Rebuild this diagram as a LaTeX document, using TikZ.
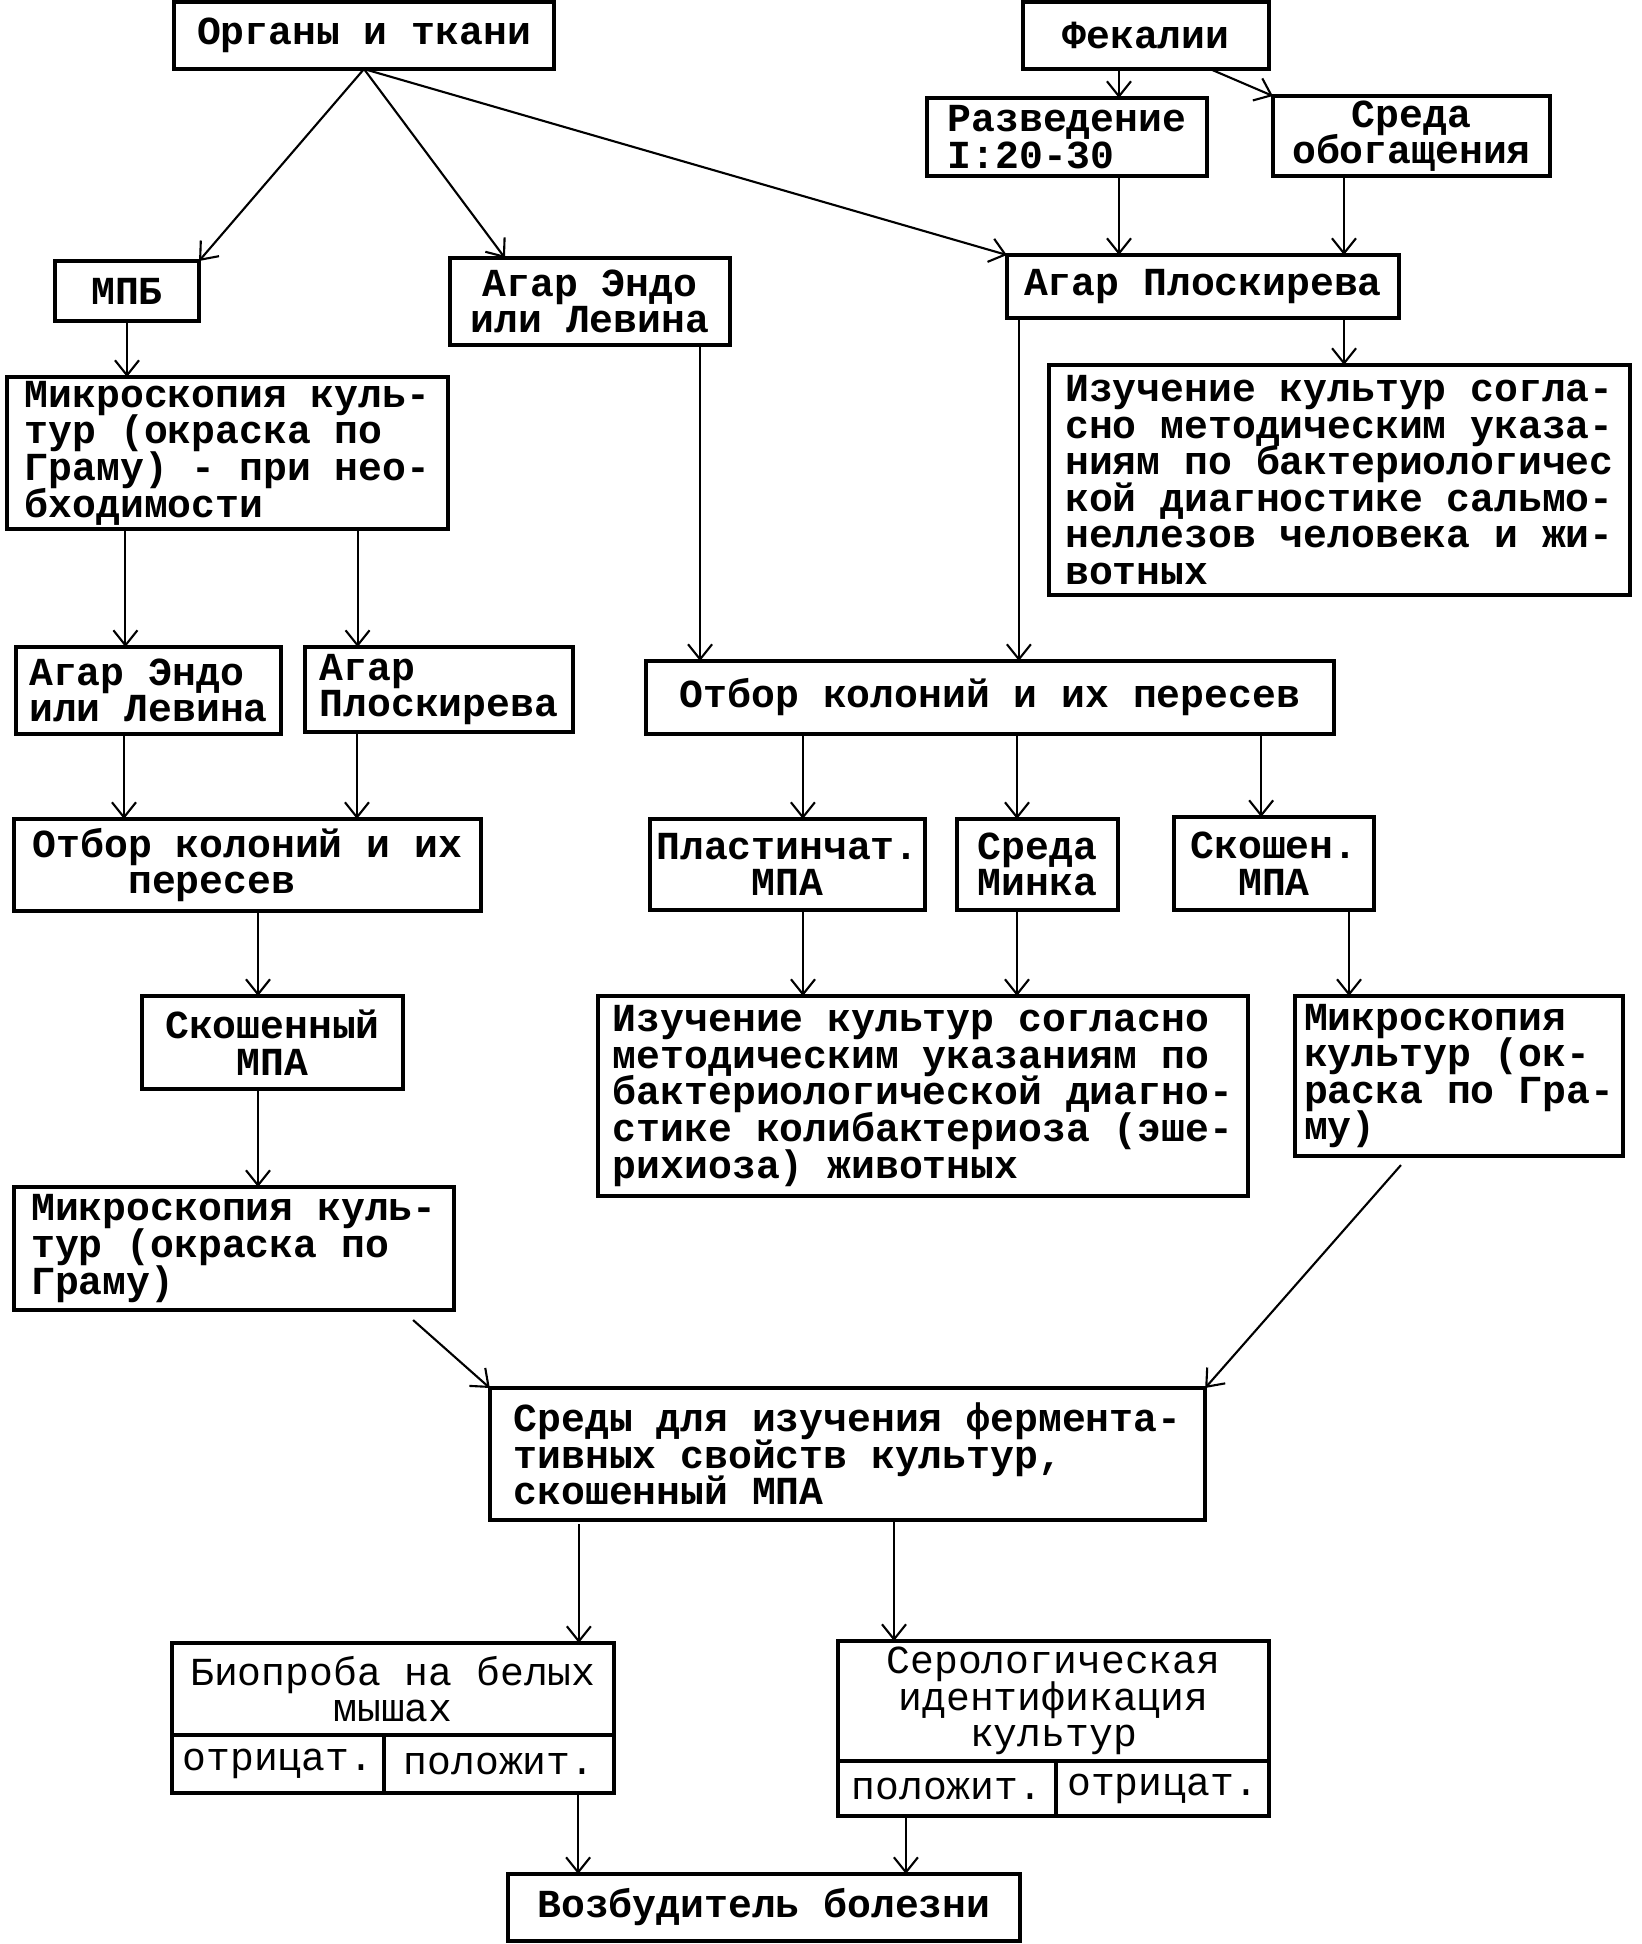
\documentclass[tikz,border=0pt]{standalone}
\usepackage{fontspec}
\setmonofont{Liberation Mono}
\usetikzlibrary{arrows.meta,positioning}

\newcommand\blkfont{\ttfamily\bfseries\fontsize{11.3}{10.4}\selectfont\lineskiplimit-10pt\relax}
\newcommand\litefont{\ttfamily\mdseries\fontsize{11.3}{10.4}\selectfont\lineskiplimit-10pt\relax}

\tikzset{
  blk/.style 2 args={draw, line width=1pt, inner sep=1pt, outer sep=0pt,
    minimum width=#1cm, minimum height=#2cm, font=\blkfont},
  lite/.style={font=\litefont},
  arr/.style={line width=0.6pt, -{Straight Barb[length=1.5mm,width=2.4mm]}},
}

\begin{document}
\begin{tikzpicture}[x=0.01cm, y=-0.01cm]
  \useasboundingbox (0,0) rectangle (1641,1944);

  % 1. Sources and first media
  \node[blk={3.80}{0.67}] (org) at (364,35.5) {Органы и ткани};
  \node[blk={2.46}{0.67}] (fek) at (1146,35.5) {Фекалии};
  \node[blk={2.80}{0.78}, align=left] (razv) at (1067,137) {Разведение\\I:20-30};
  \node[blk={2.77}{0.80}, align=center] (sreda) at (1411.5,136) {Среда\\обогащения};
  \node[blk={1.44}{0.60}] (mpb) at (127,291) {МПБ};
  \node[blk={2.80}{0.87}, align=center] (endo1) at (590,301.5) {Агар Эндо\\или Левина};
  \node[blk={3.92}{0.63}] (plosk) at (1203,286.5) {Агар Плоскирева};

  % 2. Second row
  \node[blk={4.41}{1.52}, align=left] (mic1) at (227.5,453)
    {Микроскопия куль-\\тур (окраска по\\Граму) - при нео-\\бходимости};
  \node[blk={5.81}{2.30}, align=left] (izu1) at (1339.5,480)
    {Изучение культур согла-\\сно методическим указа-\\ниям по бактериологичес\\кой диагностике сальмо-\\неллезов человека и жи-\\вотных};
  \node[blk={2.65}{0.87}, align=left] (endo2) at (148.5,690.5) {Агар Эндо\\или Левина};
  \node[blk={2.68}{0.85}, align=left] (plosk2) at (439,689.5) {Агар\\Плоскирева};
  \node[blk={6.88}{0.73}] (otb1) at (990,697.5) {Отбор колоний и их пересев};

  % 3. Colonies and subcultures
  \node[blk={4.67}{0.92}, align=left] (otb2) at (247.5,865) {Отбор колоний и их\\\hspace*{2.4em}пересев};
  \node[blk={2.75}{0.91}, align=center] (plast) at (787.5,864.5) {Пластинчат.\\МПА};
  \node[blk={1.61}{0.91}, align=center] (minka) at (1037.5,864.5) {Среда\\Минка};
  \node[blk={2.00}{0.93}, align=center] (skos1) at (1274,863.5) {Скошен.\\МПА};
  \node[blk={2.61}{0.93}, align=center] (skos2) at (272.5,1042.5) {Скошенный\\МПА};
  \node[blk={6.50}{2.00}, align=left] (izu2) at (923,1096)
    {Изучение культур согласно\\методическим указаниям по\\бактериологической диагно-\\стике колибактериоза (эше-\\рихиоза) животных};
  \node[blk={3.28}{1.60}, align=left] (mic3) at (1459,1076) {Микроскопия\\культур (ок-\\раска по Гра-\\му)};
  \node[blk={4.40}{1.23}, align=left] (mic2) at (234,1248.5) {Микроскопия куль-\\тур (окраска по\\Граму)};

  % 4. Identification
  \node[blk={7.15}{1.32}, align=left] (sredy) at (847.5,1454)
    {Среды для изучения фермента-\\тивных свойств культур,\\скошенный МПА};
  \node[blk={4.42}{0.92}, lite, align=center] (bio) at (393,1689) {Биопроба на белых\\мышах};
  \node[blk={2.12}{0.58}, lite, anchor=north west] (bioneg) at (bio.south west) {отрицат.};
  \node[blk={2.30}{0.58}, lite, anchor=north west] (biopos) at (bioneg.north east) {положит.};
  \node[blk={4.31}{1.20}, lite, align=center] (sero) at (1053.5,1701) {Серологическая\\идентификация\\культур};
  \node[blk={2.18}{0.55}, lite, anchor=north west] (seropos) at (sero.south west) {положит.};
  \node[blk={2.13}{0.55}, lite, anchor=north west] (seroneg) at (seropos.north east) {отрицат.};
  \node[blk={5.12}{0.67}] (vozb) at (764,1907.5) {Возбудитель болезни};

  % 5. Arrows
  \draw[arr] (org.south) -- (mpb.north east);
  \draw[arr] (org.south) -- ([xshift=-0.85cm]endo1.north);
  \draw[arr] (org.south) -- (plosk.north west);
  \draw[arr] ([xshift=-0.27cm]fek.south) -- ([xshift=-0.27cm]fek.south |- razv.north);
  \draw[arr] ([xshift=-0.59cm]fek.south east) -- (sreda.north west);
  \draw[arr] ([xshift=0.52cm]razv.south) -- ([xshift=0.52cm]razv.south |- plosk.north);
  \draw[arr] ([xshift=-0.675cm]sreda.south) -- ([xshift=-0.675cm]sreda.south |- plosk.north);
  \draw[arr] ([xshift=1.41cm]plosk.south) -- ([xshift=1.41cm]plosk.south |- izu1.north);
  \draw[arr] ([xshift=-1.84cm]plosk.south) -- ([xshift=-1.84cm]plosk.south |- otb1.north);
  \draw[arr] ([xshift=1.10cm]endo1.south) -- ([xshift=1.10cm]endo1.south |- otb1.north);
  \draw[arr] (mpb.south) -- (mpb.south |- mic1.north);
  \draw[arr] ([xshift=-1.02cm]mic1.south) -- ([xshift=-1.02cm]mic1.south |- endo2.north);
  \draw[arr] ([xshift=1.30cm]mic1.south) -- ([xshift=1.30cm]mic1.south |- plosk2.north);
  \draw[arr] ([xshift=-0.245cm]endo2.south) -- ([xshift=-0.245cm]endo2.south |- otb2.north);
  \draw[arr] ([xshift=-0.82cm]plosk2.south) -- ([xshift=-0.82cm]plosk2.south |- otb2.north);
  \draw[arr] ([xshift=0.105cm]otb2.south) -- ([xshift=0.105cm]otb2.south |- skos2.north);
  \draw[arr] ([xshift=-0.145cm]skos2.south) -- ([xshift=-0.145cm]skos2.south |- mic2.north);
  \draw[arr] ([xshift=-1.87cm]otb1.south) -- ([xshift=-1.87cm]otb1.south |- plast.north);
  \draw[arr] ([xshift=0.27cm]otb1.south) -- ([xshift=0.27cm]otb1.south |- minka.north);
  \draw[arr] ([xshift=2.71cm]otb1.south) -- ([xshift=2.71cm]otb1.south |- skos1.north);
  \draw[arr] ([xshift=0.155cm]plast.south) -- ([xshift=0.155cm]plast.south |- izu2.north);
  \draw[arr] ([xshift=-0.205cm]minka.south) -- ([xshift=-0.205cm]minka.south |- izu2.north);
  \draw[arr] ([xshift=0.75cm]skos1.south) -- ([xshift=0.75cm]skos1.south |- mic3.north);
  \draw[arr] ([xshift=-0.41cm,yshift=-0.1cm]mic2.south east) -- (sredy.north west);
  \draw[arr] ([xshift=-0.58cm,yshift=-0.09cm]mic3.south) -- (sredy.north east);
  \draw[arr] ([xshift=-2.685cm,yshift=-0.04cm]sredy.south) -- ([xshift=-2.685cm]sredy.south |- bio.north);
  \draw[arr] ([xshift=0.465cm]sredy.south) -- ([xshift=0.465cm]sredy.south |- sero.north);
  \draw[arr] ([xshift=0.79cm]biopos.south) -- ([xshift=0.79cm]biopos.south |- vozb.north);
  \draw[arr] ([xshift=-0.41cm]seropos.south) -- ([xshift=-0.41cm]seropos.south |- vozb.north);
\end{tikzpicture}
\end{document}
